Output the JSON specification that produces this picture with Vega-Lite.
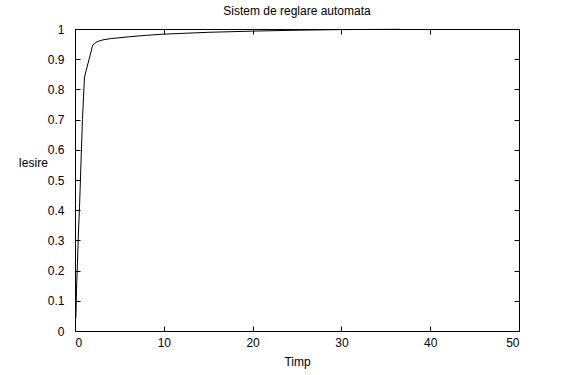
{
  "$schema": "https://vega.github.io/schema/vega-lite/v6.json",
  "autosize": "none",
  "padding": {"left": 75, "top": 29, "right": 57, "bottom": 44},
  "width": 444,
  "height": 302,
  "title": {"text": "Sistem de reglare automata", "font": "Liberation Sans", "fontSize": 12, "fontWeight": "normal", "color": "black", "offset": 5},
  "data": {"values": [
    {"t": 0.1, "y": 0.043},
    {"t": 0.17, "y": 0.136},
    {"t": 0.28, "y": 0.228},
    {"t": 0.39, "y": 0.328},
    {"t": 0.51, "y": 0.41},
    {"t": 0.62, "y": 0.51},
    {"t": 0.73, "y": 0.606},
    {"t": 0.84, "y": 0.70},
    {"t": 0.96, "y": 0.775},
    {"t": 1.07, "y": 0.841},
    {"t": 2.0, "y": 0.947},
    {"t": 2.48, "y": 0.958},
    {"t": 3.15, "y": 0.964},
    {"t": 4.0, "y": 0.968},
    {"t": 6.0, "y": 0.974},
    {"t": 8.0, "y": 0.979},
    {"t": 10.0, "y": 0.983},
    {"t": 15.0, "y": 0.989},
    {"t": 20.0, "y": 0.993},
    {"t": 25.0, "y": 0.996},
    {"t": 30.0, "y": 0.998},
    {"t": 36.6, "y": 0.999}
  ]},
  "layer": [
    {
      "mark": {"type": "line", "color": "black", "strokeWidth": 1},
      "encoding": {
        "x": {"field": "t", "type": "quantitative", "scale": {"domain": [0, 50], "nice": false, "zero": false},
              "axis": {"orient": "bottom", "values": [0, 10, 20, 30, 40, 50], "tickSize": -5, "labelPadding": 11, "title": "Timp", "titleY": 34, "titleBaseline": "alphabetic"}},
        "y": {"field": "y", "type": "quantitative", "scale": {"domain": [0, 1], "nice": false},
              "axis": {"orient": "left", "values": [0, 0.1, 0.2, 0.3, 0.4, 0.5, 0.6, 0.7, 0.8, 0.9, 1], "format": "~g", "tickSize": -5, "labelPadding": 16, "title": "Iesire", "titleAngle": 0, "titleAlign": "left", "titleBaseline": "alphabetic", "titleX": -57, "titleY": 137}}
      }
    },
    {
      "mark": {"type": "line", "strokeOpacity": 0},
      "encoding": {
        "x": {"field": "t", "type": "quantitative",
              "axis": {"orient": "top", "values": [0, 10, 20, 30, 40, 50], "tickSize": -5, "labels": false, "title": null}},
        "y": {"field": "y", "type": "quantitative",
              "axis": {"orient": "right", "values": [0, 0.1, 0.2, 0.3, 0.4, 0.5, 0.6, 0.7, 0.8, 0.9, 1], "tickSize": -5, "labels": false, "title": null}}
      }
    }
  ],
  "resolve": {"axis": {"x": "independent", "y": "independent"}},
  "config": {
    "view": {"stroke": "black", "strokeWidth": 1},
    "axis": {"grid": false, "domainColor": "black", "tickColor": "black", "labelColor": "black", "labelFont": "Liberation Sans", "labelFontSize": 12, "titleFont": "Liberation Sans", "titleFontSize": 12, "titleFontWeight": "normal", "titleColor": "black"}
  }
}
